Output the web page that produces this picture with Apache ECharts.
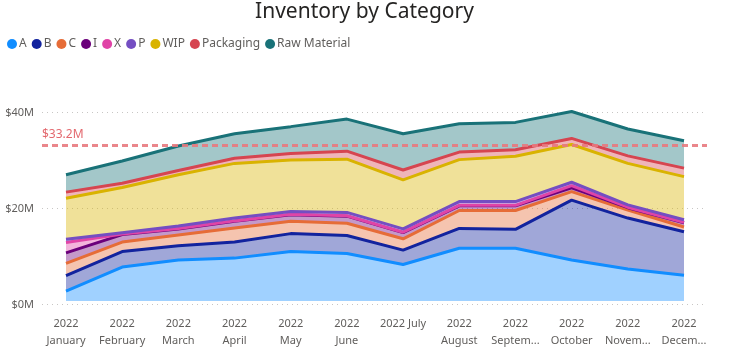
<!DOCTYPE html>
<html>
<head>
<meta charset="utf-8">
<style>html,body{margin:0;padding:0;background:#fff;}#chart{width:729px;height:349px;}</style>
<script src="https://cdn.jsdelivr.net/npm/echarts@6/dist/echarts.min.js"></script>
</head>
<body>
<div id="chart"></div>
<script>
const tickLabels = ["2022\nJanuary","2022\nFebruary","2022\nMarch","2022\nApril","2022\nMay","2022\nJune","2022 July","2022\nAugust","2022\nSeptem...","2022\nOctober","2022\nNovem...","2022\nDecem..."];
const seriesNames = ["A","B","C","I","X","P","WIP","Packaging","Raw Material"];
const valA   = [2.1, 7.2, 8.7, 9.1, 10.5, 10.1, 7.75, 11.2, 11.2, 8.7, 6.8, 5.45];
const valB   = [3.3, 3.3, 3.0, 3.4, 3.8, 3.8, 3.05, 4.2, 4.0, 12.7, 10.8, 9.25];
const valC   = [2.6, 2.0, 2.3, 3.0, 2.6, 2.6, 2.4, 3.8, 4.0, 1.8, 1.7, 1.0];
const valI   = [2.2, 1.6, 1.3, 1.4, 1.4, 1.5, 1.3, 1.0, 1.0, 0.8, 0.5, 0.9];
const valX   = [2.2, 0.1, 0.1, 0.1, 0.1, 0.1, 0.1, 0.1, 0.1, 0.5, 0.1, 0.1];
const valP   = [0.7, 0.3, 0.5, 0.6, 0.6, 0.7, 0.7, 0.8, 0.8, 0.7, 0.5, 0.55];
const valWIP = [8.7, 9.6, 10.9, 11.6, 10.9, 11.3, 10.4, 8.9, 9.6, 8.0, 8.8, 9.15];
const valPackaging = [1.3, 0.9, 0.9, 1.1, 1.4, 1.7, 2.1, 1.6, 1.4, 1.3, 1.6, 1.8];
const valRaw = [3.7, 4.7, 5.2, 5.2, 5.7, 6.8, 7.7, 6.0, 5.8, 5.7, 5.7, 5.8];
const averageLine = 33.2;
const yTicks = [0, 20, 40];

const seriesValues = [valA, valB, valC, valI, valX, valP, valWIP, valPackaging, valRaw];
const colors = ["#118DFF","#12239E","#E66C37","#6B007B","#E044A7","#744EC2","#D9B300","#D64550","#197278"];

const chart = echarts.init(document.getElementById('chart'));
const series = seriesNames.map((name, k) => ({
  name: name,
  type: 'line',
  stack: 'total',
  symbol: 'none',
  clip: false,
  xAxisIndex: 0, yAxisIndex: 0,
  data: seriesValues[k],
  lineStyle: { width: 3, color: colors[k] },
  itemStyle: { color: colors[k] },
  areaStyle: { color: colors[k], opacity: 0.4 },
  emphasis: { disabled: true }
}));
series.push({
  name: 'avg', type: 'line', xAxisIndex: 1, yAxisIndex: 1, data: [], silent: true,
  markLine: {
    silent: true,
    symbol: 'none',
    data: [{ yAxis: averageLine }],
    lineStyle: { color: '#E8797E', type: [6, 4], width: 3, opacity: 0.9 },
    label: {
      show: true, position: 'insideStartTop',
      formatter: '$' + averageLine + 'M',
      color: '#E0585E', fontSize: 12, fontFamily: 'Noto Sans', distance: [0, 5]
    }
  }
});

chart.setOption({
  animation: false,
  color: colors,
  title: {
    text: 'Inventory by Category', left: 'center', top: -3,
    textStyle: { fontFamily: 'Noto Sans', fontSize: 21, fontWeight: 'normal', color: '#252423' }
  },
  legend: {
    left: 2, top: 33, icon: 'circle', itemWidth: 10, itemHeight: 10, itemGap: 5,
    textStyle: { fontFamily: 'Noto Sans', fontSize: 12, color: '#605E5C', padding: [0, 0, 0, -3] },
    data: seriesNames
  },
  grid: [
    { left: 66, right: 45, top: 112.5, bottom: 44.5 },
    { left: 42, right: 22, top: 112.5, bottom: 44.5 }
  ],
  xAxis: [
    {
      type: 'category', gridIndex: 0, boundaryGap: false, data: tickLabels,
      axisLine: { show: false }, axisTick: { show: false }, splitLine: { show: false },
      axisLabel: { color: '#605E5C', fontFamily: 'Noto Sans', fontSize: 11, lineHeight: 17, margin: 14, interval: 0 }
    },
    { type: 'value', gridIndex: 1, min: 0, max: 1, show: false }
  ],
  yAxis: [
    { type: 'value', gridIndex: 0, min: 0, max: 40, interval: 20, show: false, splitLine: { show: false } },
    {
      type: 'value', gridIndex: 1, min: 0, max: 40, interval: 20,
      axisLine: { show: false }, axisTick: { show: false },
      splitLine: { lineStyle: { color: '#C8C6C4', type: [1, 4], width: 1 } },
      axisLabel: { formatter: v => '$' + v + 'M', color: '#605E5C', fontFamily: 'Noto Sans', fontSize: 11, margin: 8 }
    }
  ],
  series: series
});
</script>
</body>
</html>
